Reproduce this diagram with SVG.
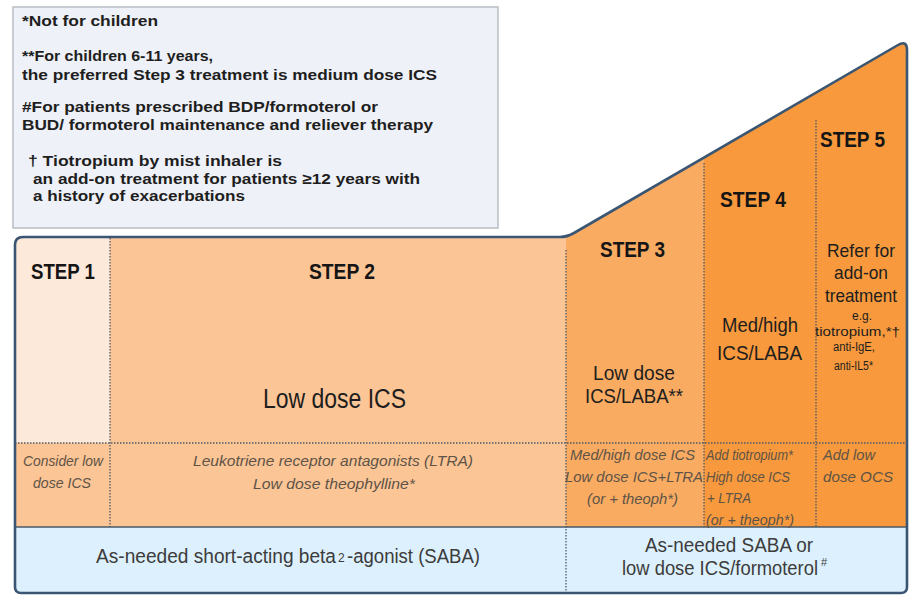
<svg xmlns="http://www.w3.org/2000/svg" width="917" height="595" viewBox="0 0 917 595">
<style>
.note{font-family:"Liberation Sans",Arial,sans-serif;font-weight:bold;font-size:15px;fill:#1e1e1e}
.step{font-family:"Liberation Sans",Arial,sans-serif;font-weight:bold;font-size:22px;fill:#151515}
.main{font-family:"Liberation Sans",Arial,sans-serif;font-size:21px;fill:#1e1e1e}
.small{font-family:"Liberation Sans",Arial,sans-serif;font-size:12.5px;fill:#1e1e1e}
.addon{font-family:"Liberation Sans",Arial,sans-serif;font-style:italic;font-size:15px;fill:#5e5346}
.rel{font-family:"Liberation Sans",Arial,sans-serif;font-size:20px;fill:#3c3c3c}
.dot{stroke:#4e5a68;stroke-width:1.3;stroke-dasharray:1.5 1.5;fill:none}
</style>
<defs>
<clipPath id="shape">
<path d="M15,245 Q15,237 23,237 L560,237 Q567,237 574,233 L898,45 Q907,40 907,50 L907,587 Q907,593 901,593 L21,593 Q15,593 15,587 Z"/>
</clipPath>
</defs>
<rect width="917" height="595" fill="#ffffff"/>

<g id="note">
<rect x="13" y="7" width="485" height="221" fill="#eef1f7" stroke="#b9bdc4" stroke-width="1.5"/>
<text class="note" x="22" y="26" textLength="136" lengthAdjust="spacingAndGlyphs">*Not for children</text>
<text class="note" x="22" y="61" textLength="191" lengthAdjust="spacingAndGlyphs">**For children 6-11 years,</text>
<text class="note" x="22" y="80" textLength="415" lengthAdjust="spacingAndGlyphs">the preferred Step 3 treatment is medium dose ICS</text>
<text class="note" x="22" y="112" textLength="356" lengthAdjust="spacingAndGlyphs">#For patients prescribed BDP/formoterol or</text>
<text class="note" x="22" y="130" textLength="411" lengthAdjust="spacingAndGlyphs">BUD/ formoterol maintenance and reliever therapy</text>
<text class="note" x="28" y="166" textLength="254" lengthAdjust="spacingAndGlyphs">† Tiotropium by mist inhaler is</text>
<text class="note" x="33" y="184" textLength="387" lengthAdjust="spacingAndGlyphs">an add-on treatment for patients ≥12 years with</text>
<text class="note" x="33" y="201" textLength="212" lengthAdjust="spacingAndGlyphs">a history of exacerbations</text>
</g>

<g clip-path="url(#shape)">
<rect x="0" y="0" width="917" height="595" fill="#fbc596"/>
<rect x="15" y="237" width="95" height="206" fill="#fde9da"/>
<rect x="566" y="0" width="138" height="527" fill="#f9ab62"/>
<rect x="704" y="0" width="204" height="527" fill="#f7993c"/>
<rect x="0" y="527" width="917" height="68" fill="#ddf0fd"/>
</g>

<g id="connectors">
<line class="dot" x1="15" y1="443" x2="907" y2="443"/>
<line class="dot" x1="110" y1="238" x2="110" y2="527"/>
<line class="dot" x1="566" y1="250" x2="566" y2="593"/>
<line class="dot" x1="704" y1="163" x2="704" y2="527"/>
<line class="dot" x1="816" y1="120" x2="816" y2="527"/>
<line x1="15" y1="527" x2="907" y2="527" stroke="#4a5866" stroke-width="1.6"/>
</g>

<path d="M15,245 Q15,237 23,237 L560,237 Q567,237 574,233 L898,45 Q907,40 907,50 L907,587 Q907,593 901,593 L21,593 Q15,593 15,587 Z" fill="none" stroke="#3b5673" stroke-width="2.6"/>

<g id="step1">
<text class="step" x="31" y="279" textLength="64" lengthAdjust="spacingAndGlyphs">STEP 1</text>
<text class="addon" x="23" y="466" textLength="80" lengthAdjust="spacingAndGlyphs">Consider low</text>
<text class="addon" x="33" y="488" textLength="58" lengthAdjust="spacingAndGlyphs">dose ICS</text>
</g>

<g id="step2">
<text class="step" x="309" y="279" textLength="66" lengthAdjust="spacingAndGlyphs">STEP 2</text>
<text class="main" x="263" y="408" style="font-size:27px" textLength="143" lengthAdjust="spacingAndGlyphs">Low dose ICS</text>
<text class="addon" x="193" y="466" textLength="280" lengthAdjust="spacingAndGlyphs">Leukotriene receptor antagonists (LTRA)</text>
<text class="addon" x="253" y="489" textLength="162" lengthAdjust="spacingAndGlyphs">Low dose theophylline*</text>
</g>

<g id="step3">
<text class="step" x="600" y="257" textLength="65" lengthAdjust="spacingAndGlyphs">STEP 3</text>
<text class="main" x="593" y="380" textLength="82" lengthAdjust="spacingAndGlyphs">Low dose</text>
<text class="main" x="585" y="403" textLength="98" lengthAdjust="spacingAndGlyphs">ICS/LABA**</text>
<text class="addon" x="570" y="460" textLength="125" lengthAdjust="spacingAndGlyphs">Med/high dose ICS</text>
<text class="addon" x="565" y="482" textLength="138" lengthAdjust="spacingAndGlyphs">Low dose ICS+LTRA</text>
<text class="addon" x="587" y="504" textLength="91" lengthAdjust="spacingAndGlyphs">(or + theoph*)</text>
</g>

<g id="step4">
<text class="step" x="720" y="207" textLength="66" lengthAdjust="spacingAndGlyphs">STEP 4</text>
<text class="main" x="722" y="332" textLength="76" lengthAdjust="spacingAndGlyphs">Med/high</text>
<text class="main" x="717" y="360" textLength="85" lengthAdjust="spacingAndGlyphs">ICS/LABA</text>
<text class="addon" x="706" y="460" textLength="87" lengthAdjust="spacingAndGlyphs">Add tiotropium*</text>
<text class="addon" x="706" y="482" textLength="84" lengthAdjust="spacingAndGlyphs">High dose ICS</text>
<text class="addon" x="707" y="503" textLength="44" lengthAdjust="spacingAndGlyphs">+ LTRA</text>
<text class="addon" x="706" y="525" textLength="88" lengthAdjust="spacingAndGlyphs">(or + theoph*)</text>
</g>

<g id="step5">
<text class="step" x="820" y="147" textLength="65" lengthAdjust="spacingAndGlyphs">STEP 5</text>
<text class="main" x="827" y="257" style="font-size:19px" textLength="68" lengthAdjust="spacingAndGlyphs">Refer for</text>
<text class="main" x="834" y="279" style="font-size:19px" textLength="54" lengthAdjust="spacingAndGlyphs">add-on</text>
<text class="main" x="825" y="302" style="font-size:19px" textLength="72" lengthAdjust="spacingAndGlyphs">treatment</text>
<text class="small" x="862" y="320" style="font-size:12px" text-anchor="middle">e.g.</text>
<text class="small" x="815" y="336" textLength="85" lengthAdjust="spacingAndGlyphs">tiotropium,*†</text>
<text class="small" x="833" y="351" textLength="42" lengthAdjust="spacingAndGlyphs">anti-IgE,</text>
<text class="small" x="834" y="370" textLength="39" lengthAdjust="spacingAndGlyphs">anti-IL5*</text>
<text class="addon" x="823" y="460" textLength="52" lengthAdjust="spacingAndGlyphs">Add low</text>
<text class="addon" x="823" y="482" textLength="70" lengthAdjust="spacingAndGlyphs">dose OCS</text>
</g>

<g id="reliever-1-2">
<text class="rel" x="96" y="563" textLength="240" lengthAdjust="spacingAndGlyphs">As-needed short-acting beta</text>
<text class="rel" x="338" y="562" style="font-size:12px">2</text>
<text class="rel" x="347" y="563" textLength="133" lengthAdjust="spacingAndGlyphs">-agonist (SABA)</text>
</g>

<g id="reliever-3-5">
<text class="rel" x="645" y="552" textLength="168" lengthAdjust="spacingAndGlyphs">As-needed SABA or</text>
<text class="rel" x="622" y="575" textLength="196" lengthAdjust="spacingAndGlyphs">low dose ICS/formoterol</text>
<text class="rel" x="821" y="566" style="font-size:11px">#</text>
</g>
</svg>
